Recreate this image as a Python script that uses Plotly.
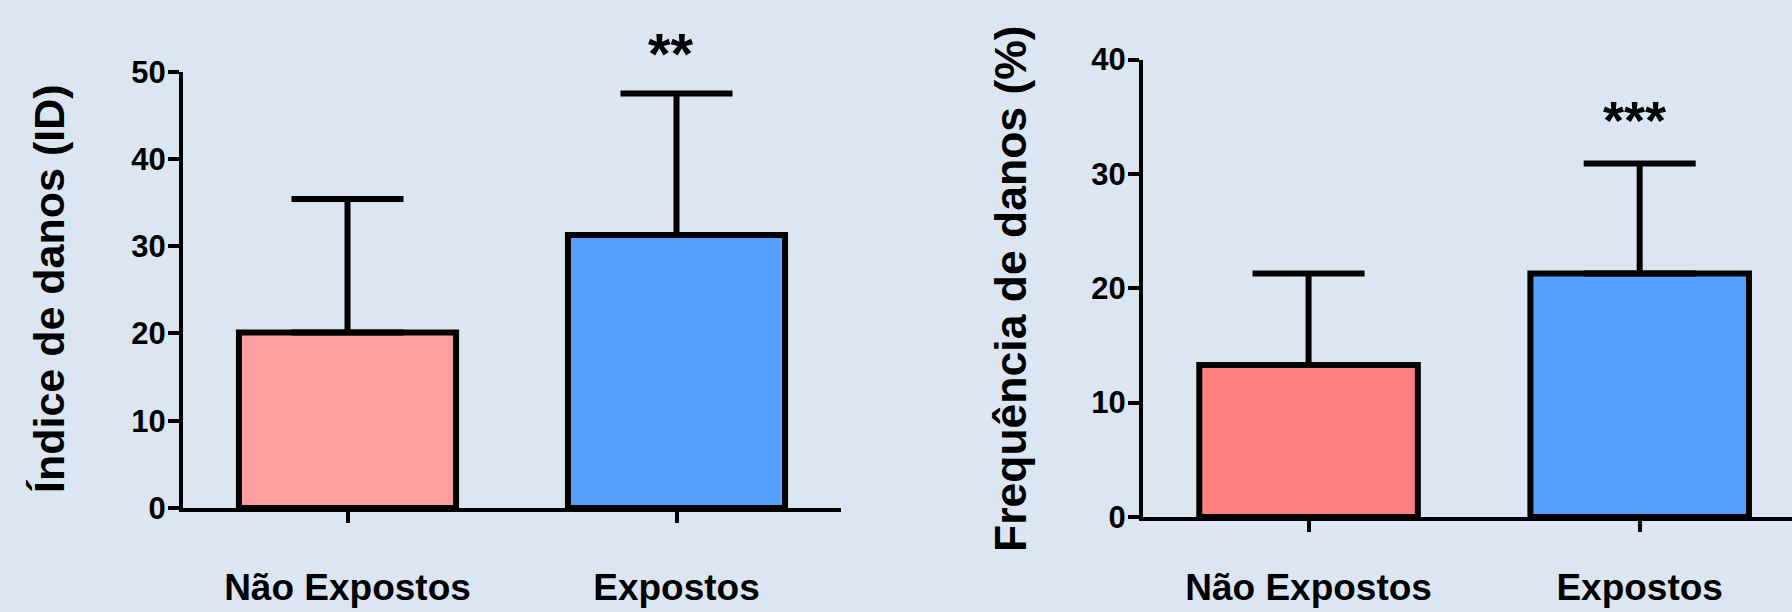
import plotly.graph_objects as go

# ---- data ----
categories = ["Não Expostos", "Expostos"]

indice_means = [20.1, 31.3]
indice_sd = [15.3, 16.2]

freq_means = [13.3, 21.3]
freq_sd = [8.0, 9.6]

indice_colors = ["#FFA0A0", "#55A0FF"]
freq_colors = ["#FF8080", "#55A0FF"]

indice_sig = "**"
freq_sig = "***"
indice_sig_y = 52.1
freq_sig_y = 34.7

indice_range = [0, 50]
freq_range = [0, 40]

W, H = 1792, 612
FONT = "Arial, Liberation Sans, sans-serif"
BG = "#DCE6F2"

fig = go.Figure()

def add_bar(xa, ya, means, sds, colors):
    fig.add_trace(go.Bar(
        x=categories, y=means, width=0.66,
        marker=dict(color=colors, line=dict(color="black", width=6)),
        error_y=dict(type="data", array=sds, arrayminus=[0] * len(sds), symmetric=False,
                     color="black", thickness=6, width=56),
        xaxis=xa, yaxis=ya, showlegend=False, hoverinfo="skip",
    ))

add_bar("x", "y", indice_means, indice_sd, indice_colors)
add_bar("x2", "y2", freq_means, freq_sd, freq_colors)

def py(px):
    return 1 - px / H

axis_common = dict(showline=True, linecolor="black", showgrid=False, zeroline=False,
                   ticks="outside", tickcolor="black", automargin=False)

fig.update_layout(
    width=W, height=H,
    margin=dict(l=0, r=0, t=0, b=0, pad=0, autoexpand=False),
    paper_bgcolor=BG, plot_bgcolor=BG,
    xaxis=dict(domain=[183 / W, 841 / W], range=[-0.5, 1.5], type="category",
               linewidth=4, ticklen=11, tickwidth=4, anchor="y",
               tickfont=dict(family=FONT, size=37, color="black", weight="bold"),
               ticklabelstandoff=33, **axis_common),
    yaxis=dict(domain=[py(508), py(71.7)], range=indice_range, tickvals=[0, 10, 20, 30, 40, 50],
               linewidth=4, ticklen=11, tickwidth=3.5, anchor="x",
               tickfont=dict(family=FONT, size=31, color="black", weight="bold"),
               ticklabelstandoff=-4, **axis_common),
    xaxis2=dict(domain=[1143 / W, 1.0], range=[-0.5, 1.46], type="category",
                linewidth=4, ticklen=11, tickwidth=4, anchor="y2",
                tickfont=dict(family=FONT, size=37, color="black", weight="bold"),
                ticklabelstandoff=24, **axis_common),
    yaxis2=dict(domain=[py(517), py(59.5)], range=freq_range, tickvals=[0, 10, 20, 30, 40],
                linewidth=4, ticklen=11, tickwidth=3.5, anchor="x2",
                tickfont=dict(family=FONT, size=31, color="black", weight="bold"),
                ticklabelstandoff=-4, **axis_common),
)

annotations = [
    dict(text="Índice de danos (ID)", textangle=-90, xref="paper", yref="paper",
         x=49 / W, y=py(289), xanchor="center", yanchor="middle", showarrow=False,
         font=dict(family=FONT, size=43, color="black", weight="bold")),
    dict(text="Frequência de danos (%)", textangle=-90, xref="paper", yref="paper",
         x=1010 / W, y=py(289), xanchor="center", yanchor="middle", showarrow=False,
         font=dict(family=FONT, size=44.5, color="black", weight="bold")),
    dict(text=indice_sig, xref="x", yref="y domain", x=categories[1],
         y=indice_sig_y / indice_range[1], xshift=-6,
         showarrow=False, yanchor="middle",
         font=dict(family=FONT, size=58, color="black", weight="bold")),
    dict(text=freq_sig, xref="x2", yref="y2 domain", x=categories[1],
         y=freq_sig_y / freq_range[1], xshift=-5,
         showarrow=False, yanchor="middle",
         font=dict(family=FONT, size=54, color="black", weight="bold")),
]
fig.update_layout(annotations=annotations)

fig.write_html("out.html", config={"displayModeBar": False},
               post_script="document.body.style.margin='0';document.body.style.padding='0';"
                           "document.documentElement.style.overflow='hidden';")
